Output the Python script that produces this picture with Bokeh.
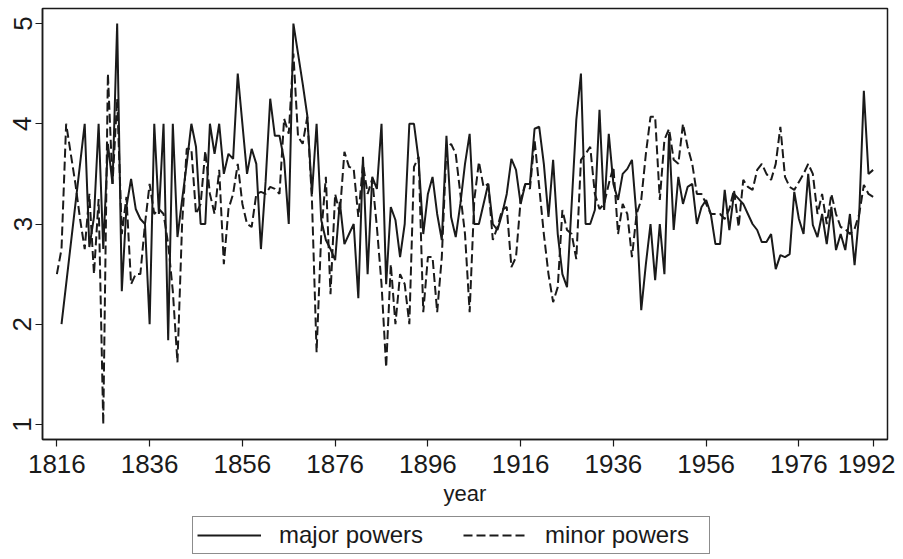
from bokeh.plotting import figure
from bokeh.layouts import column
from bokeh.models import Legend, LegendItem, FixedTicker, Range1d
from bokeh.embed import file_html
from bokeh.resources import INLINE

major_years = [1817] + list(range(1822, 1993))
major_vals = [
    2.0,
    4.0, 2.77, 3.07, 4.0, 2.75, 3.8, 3.4, 5.0, 2.33,          # 1822-1830
    3.17, 3.45, 3.15, 3.05, 3.0, 2.0, 4.0, 3.1, 4.0, 1.84,    # 1831-1840
    4.0, 2.87, 3.24, 3.6, 4.0, 3.77, 3.0, 3.0, 4.0, 3.7,      # 1841-1850
    4.0, 3.5, 3.7, 3.65, 4.5, 4.0, 3.5, 3.75, 3.6, 2.75,      # 1851-1860
    3.42, 4.25, 3.88, 3.88, 3.64, 3.0, 5.0, 4.7, 4.4, 4.08,   # 1861-1870
    3.3, 4.0, 3.04, 2.84, 2.75, 2.64, 3.22, 2.8, 2.9, 3.0,    # 1871-1880
    2.26, 3.67, 2.5, 3.47, 3.35, 4.0, 2.4, 3.17, 3.04, 2.67,  # 1881-1890
    3.0, 4.0, 4.0, 3.64, 2.9, 3.3, 3.47, 3.1, 2.84, 3.88,     # 1891-1900
    3.07, 2.87, 3.2, 3.6, 3.9, 3.0, 3.0, 3.2, 3.4, 3.0,       # 1901-1910
    2.94, 3.1, 3.3, 3.65, 3.54, 3.2, 3.4, 3.4, 3.95, 3.97,    # 1911-1920
    3.6, 3.07, 3.64, 2.9, 2.5, 2.37, 3.2, 4.04, 4.5, 3.0,     # 1921-1930
    3.0, 3.14, 4.14, 3.14, 3.9, 3.4, 3.24, 3.5, 3.55, 3.64,   # 1931-1940
    3.07, 2.14, 2.6, 3.0, 2.44, 3.0, 2.5, 3.9, 2.94, 3.47,    # 1941-1950
    3.2, 3.37, 3.4, 3.0, 3.17, 3.24, 3.1, 2.8, 2.8, 3.34,     # 1951-1960
    2.94, 3.3, 3.25, 3.2, 3.1, 3.0, 2.94, 2.82, 2.82, 2.9,    # 1961-1970
    2.55, 2.69, 2.67, 2.7, 3.32, 3.05, 2.9, 3.5, 2.99, 2.87,  # 1971-1980
    3.1, 2.8, 3.17, 2.74, 2.9, 2.74, 3.1, 2.59, 3.1, 4.33,    # 1981-1990
    3.5, 3.54,                                                # 1991-1992
]

minor_years = list(range(1816, 1993))
minor_vals = [
    2.5, 2.75, 4.0, 3.7, 3.4, 3.05, 2.75, 3.3, 2.5, 3.25,     # 1816-1825
    1.0, 4.5, 3.4, 4.25, 2.9, 3.27, 2.4, 2.5, 2.5, 3.0,       # 1826-1835
    3.4, 3.1, 3.15, 3.1, 2.8, 2.33, 1.62, 3.0, 3.75, 3.75,    # 1836-1845
    3.1, 3.2, 3.73, 3.3, 3.1, 3.54, 2.6, 3.15, 3.3, 3.6,      # 1846-1855
    3.2, 3.0, 2.97, 3.3, 3.32, 3.3, 3.37, 3.35, 3.3, 4.05,    # 1856-1865
    3.9, 4.7, 3.87, 3.8, 4.07, 3.24, 1.72, 2.9, 3.47, 2.3,    # 1866-1875
    3.3, 3.1, 3.72, 3.57, 3.55, 3.07, 3.6, 3.3, 3.45, 2.97,   # 1876-1885
    2.4, 1.57, 2.6, 2.0, 2.5, 2.4, 2.0, 3.57, 3.67, 2.12,     # 1886-1895
    2.67, 2.67, 2.12, 2.67, 3.75, 3.8, 3.7, 3.3, 2.9, 2.12,   # 1896-1905
    3.24, 3.62, 3.37, 3.4, 2.84, 2.97, 3.14, 3.17, 2.57, 2.67,# 1906-1915
    3.24, 3.4, 3.35, 3.84, 3.37, 2.9, 2.5, 2.22, 2.37, 3.14,  # 1916-1925
    2.94, 2.9, 2.65, 3.64, 3.7, 3.77, 3.3, 3.15, 3.2, 3.4,    # 1926-1935
    3.57, 2.9, 3.2, 3.1, 2.67, 3.1, 3.24, 3.7, 4.07, 4.07,    # 1936-1945
    3.24, 3.84, 3.95, 3.64, 3.6, 4.0, 3.77, 3.6, 3.3, 3.3,    # 1946-1955
    3.2, 3.1, 3.1, 3.1, 3.05, 3.15, 3.34, 2.97, 3.44, 3.37,   # 1956-1965
    3.34, 3.54, 3.6, 3.5, 3.44, 3.6, 3.97, 3.47, 3.37, 3.34,  # 1966-1975
    3.42, 3.5, 3.6, 3.5, 3.1, 3.3, 3.0, 3.3, 3.1, 2.97,       # 1976-1985
    2.95, 2.9, 2.95, 3.1, 3.39, 3.3, 3.27,                    # 1986-1992
]

x_ticks = [1816, 1836, 1856, 1876, 1896, 1916, 1936, 1956, 1976, 1992]
y_ticks = [1, 2, 3, 4, 5]

FONT = "Liberation Sans"
INK = "#1a1a1a"
DASH = "9 4"

p = figure(width=895, height=514, output_backend="svg", toolbar_location=None,
           x_range=Range1d(1812.9, 1995.1), y_range=Range1d(0.85, 5.15),
           min_border_left=42, min_border_right=8, min_border_top=8,
           min_border_bottom=75)
p.background_fill_color = "white"
p.border_fill_color = "white"
p.outline_line_color = INK
p.outline_line_width = 1.5
p.xgrid.visible = False
p.ygrid.visible = False

p.line(major_years, major_vals, line_color=INK, line_width=2.0)
p.line(minor_years, minor_vals, line_color=INK, line_width=2.0, line_dash=DASH)

for ax in (p.xaxis[0], p.yaxis[0]):
    ax.axis_line_color = INK
    ax.axis_line_width = 1.5
    ax.major_tick_line_color = INK
    ax.major_tick_line_width = 1.2
    ax.major_tick_out = 7
    ax.major_tick_in = 0
    ax.minor_tick_line_color = None
    ax.major_label_text_font = FONT
    ax.major_label_text_font_size = "26px"
    ax.major_label_text_color = INK
    ax.axis_label_text_font = FONT
    ax.axis_label_text_font_style = "normal"
    ax.axis_label_text_font_size = "22px"
    ax.axis_label_text_color = INK

p.xaxis.ticker = FixedTicker(ticks=x_ticks)
p.yaxis.ticker = FixedTicker(ticks=y_ticks)
p.yaxis.major_label_orientation = "vertical"
p.yaxis.major_label_standoff = 4
p.xaxis.axis_label = "year"
p.xaxis.axis_label_standoff = 5
p.xaxis.major_label_standoff = 8

# legend strip below the chart (frame aligned with the main chart)
lg = figure(width=895, height=45, output_backend="svg", toolbar_location=None,
            x_axis_location=None, y_axis_location=None,
            min_border_left=42, min_border_right=8, min_border_top=0,
            min_border_bottom=0, x_range=Range1d(0, 1), y_range=Range1d(0, 1))
lg.outline_line_color = None
lg.background_fill_color = "white"
lg.border_fill_color = "white"
lg.xgrid.visible = False
lg.ygrid.visible = False
nan = float("nan")
s1 = lg.line([nan], [nan], line_color=INK, line_width=2.0)
s2 = lg.line([nan], [nan], line_color=INK, line_width=2.0, line_dash=DASH)

legend = Legend(items=[LegendItem(label="major powers", renderers=[s1]),
                       LegendItem(label="minor powers", renderers=[s2])],
                orientation="horizontal", location=(150, 5),
                border_line_color=INK, border_line_width=1.2,
                glyph_width=64, glyph_height=20,
                label_text_font=FONT, label_text_font_size="24px",
                label_text_color=INK, label_standoff=18, label_width=160,
                spacing=24, padding=4, margin=0, background_fill_color="white")
lg.add_layout(legend, "center")

open("out.html", "w").write(file_html(column(p, lg, spacing=0), INLINE))
